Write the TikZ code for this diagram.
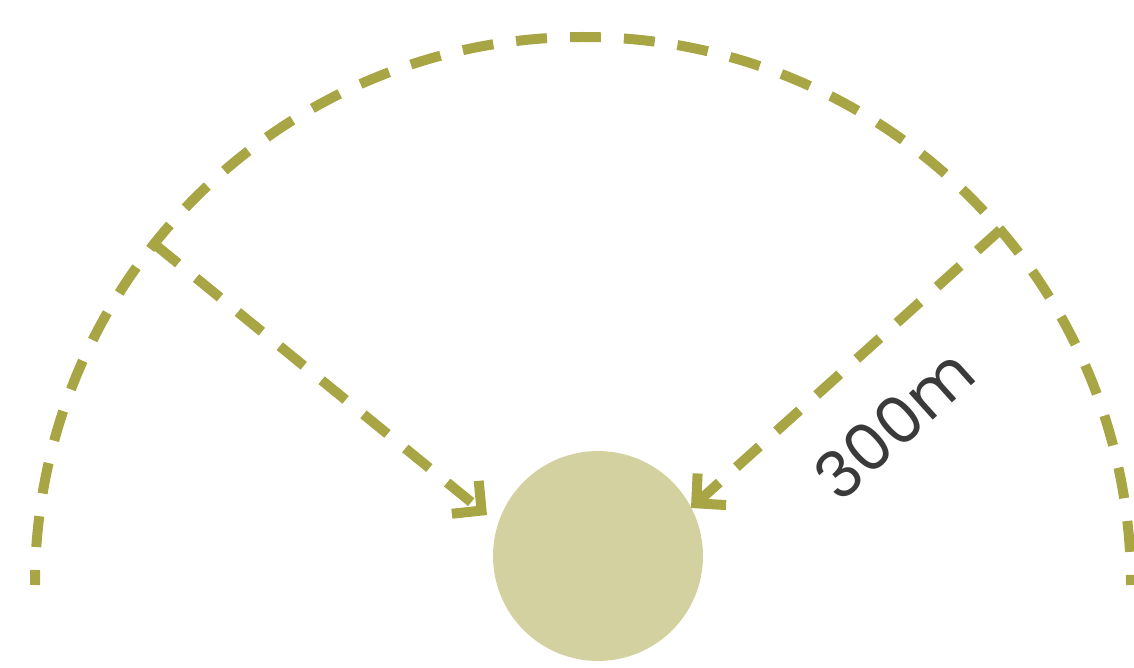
\documentclass[tikz,border=0pt]{standalone}
\usepackage{fontspec}
\setmainfont{Poppins}
\usetikzlibrary{calc, arrows.meta}
\definecolor{oliva}{HTML}{A8A545}
\definecolor{olivachiaro}{HTML}{D4D1A1}
\definecolor{testo}{HTML}{3A3A3A}
\tikzset{
  tratto/.style={oliva, line width=0.2cm, dash pattern=on 0.62cm off 0.46cm},
  freccia/.style={tratto, -{Straight Barb[length=0.42cm, width=0.85cm, line cap=butt, line join=miter]}}
}
\begin{document}
\begin{tikzpicture}[x=0.02cm, y=0.02cm]
    \useasboundingbox (0,0) rectangle (1134,667);

    % punti
    \coordinate (O) at (583,82);
    \coordinate (A) at ($(O)+(141.5:548)$);
    \coordinate (B) at ($(O)+(40.4:548)$);
    \coordinate (TA) at (487,152);
    \coordinate (TB) at (691,159);

    % sito
    \node[circle, fill=olivachiaro, minimum size=4.2cm, inner sep=0pt] (S) at (598,111) {};

    % raggio
    \draw[tratto, dash phase=0.32cm] (35,82) arc[start angle=180, end angle=0, radius=548];

    % frecce
    \draw[freccia] (A) -- (TA);
    \draw[freccia] (B) -- (TB);

    % etichetta
    \node[testo, rotate=42, font=\fontsize{37}{44}\selectfont] (L) at (894,243) {300m};
\end{tikzpicture}
\end{document}
